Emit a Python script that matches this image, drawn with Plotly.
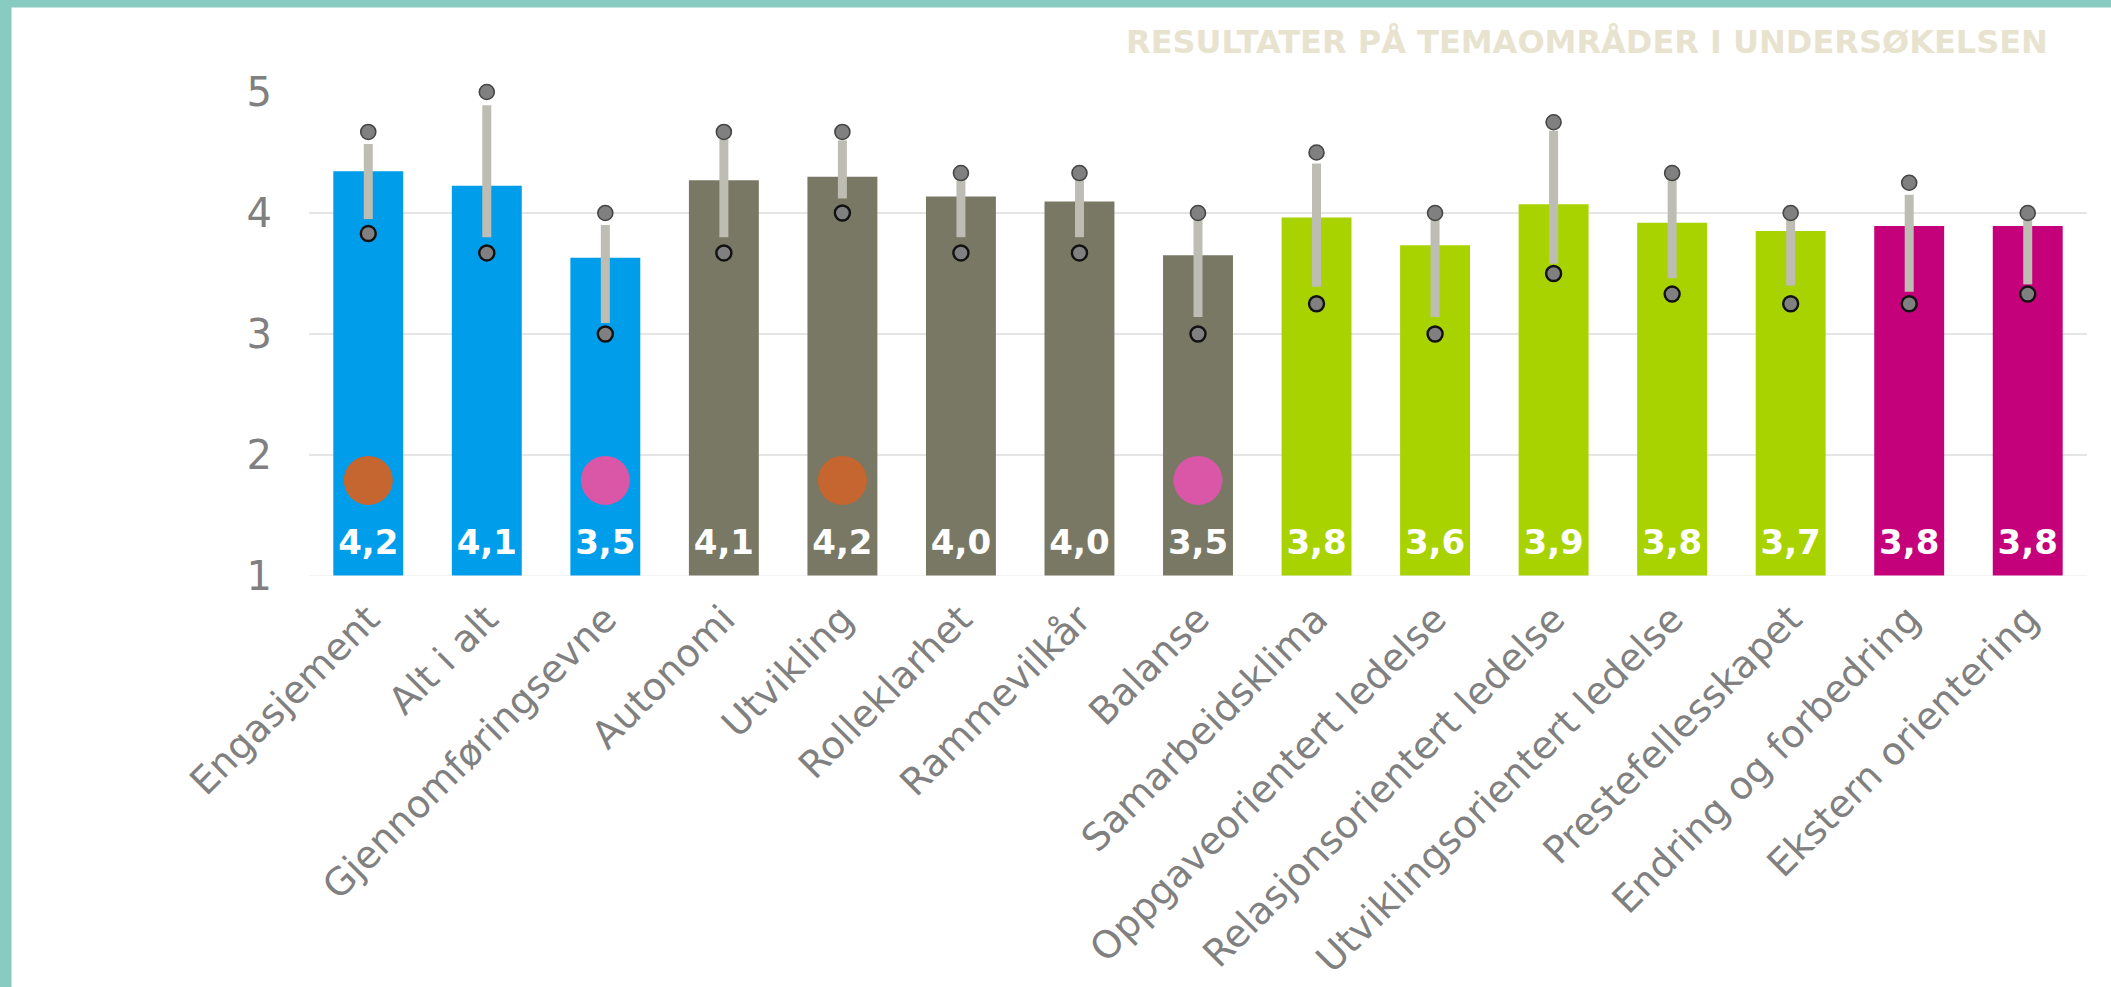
import plotly.graph_objects as go

categories = ["Engasjement", "Alt i alt", "Gjennomføringsevne", "Autonomi", "Utvikling",
              "Rolleklarhet", "Rammevilkår", "Balanse", "Samarbeidsklima",
              "Oppgaveorientert ledelse", "Relasjonsorientert ledelse",
              "Utviklingsorientert ledelse", "Prestefellesskapet",
              "Endring og forbedring", "Ekstern orientering"]
bar_values = [4.345, 4.226, 3.63, 4.27, 4.30, 4.137, 4.096, 3.651, 3.962, 3.733,
              4.073, 3.919, 3.852, 3.893, 3.893]
value_labels = ["4,2", "4,1", "3,5", "4,1", "4,2", "4,0", "4,0", "3,5", "3,8", "3,6",
                "3,9", "3,8", "3,7", "3,8", "3,8"]
max_values = [4.67, 5.0, 4.0, 4.67, 4.67, 4.33, 4.33, 4.0, 4.5, 4.0, 4.75, 4.33, 4.0, 4.25, 4.0]
min_values = [3.83, 3.67, 3.0, 3.67, 4.0, 3.67, 3.67, 3.0, 3.25, 3.0, 3.5, 3.33, 3.25, 3.25, 3.33]
range_top = [4.57, 4.89, 3.90, 4.61, 4.60, 4.27, 4.27, 3.95, 4.41, 3.95, 4.68, 4.27, 3.95, 4.15, 3.95]
range_bottom = [3.95, 3.80, 3.09, 3.80, 4.12, 3.80, 3.80, 3.14, 3.39, 3.14, 3.58, 3.46, 3.40, 3.35, 3.41]
groups = ["A", "A", "A", "B", "B", "B", "B", "B", "C", "C", "C", "C", "C", "D", "D"]
flags = ["hi", None, "lo", None, "hi", None, None, "lo", None, None, None, None, None, None, None]
y_ticks = [1, 2, 3, 4, 5]
title_text = "RESULTATER PÅ TEMAOMRÅDER I UNDERSØKELSEN"

GROUP_COLORS = {"A": "#009EEA", "B": "#787864", "C": "#A8D300", "D": "#C4007A"}
FLAG_COLORS = {"hi": "#C5652F", "lo": "#D957A6"}
LABEL_Y = 1.255
FLAG_Y = 1.79
FONT = "DejaVu Sans"
TICK_COLOR = "#808080"
TEAL = "#88CBC0"

W, H = 2111, 987
ML, MR, MT, MB = 309, 24, 92, 411

fig = go.Figure()
fig.add_trace(go.Bar(x=categories, y=bar_values,
                     marker=dict(color=[GROUP_COLORS[g] for g in groups], line=dict(width=0)),
                     hoverinfo="skip"))

for c, t, b in zip(categories, range_top, range_bottom):
    fig.add_trace(go.Scatter(x=[c, c], y=[b, t], mode="lines",
                             line=dict(color="#BDBDB3", width=9),
                             hoverinfo="skip", cliponaxis=False))

fig.add_trace(go.Scatter(x=categories, y=max_values, mode="markers", cliponaxis=False,
                         marker=dict(size=15, color="#808080", line=dict(color="#454545", width=1.6))))
fig.add_trace(go.Scatter(x=categories, y=min_values, mode="markers", cliponaxis=False,
                         marker=dict(size=15, color="#808080", line=dict(color="#111111", width=2.4))))

fx = [c for c, f in zip(categories, flags) if f]
fc = [FLAG_COLORS[f] for f in flags if f]
fig.add_trace(go.Scatter(x=fx, y=[FLAG_Y] * len(fx), mode="markers",
                         marker=dict(size=49, color=fc, line=dict(width=0))))

fig.add_trace(go.Scatter(x=categories, y=[LABEL_Y] * len(categories), mode="text",
                         text=value_labels, textposition="middle center",
                         textfont=dict(family=FONT, size=34, color="white", weight="bold")))

pw = W - ML - MR
ph = H - MT - MB


def px_x(p):
    return (p - ML) / pw


def px_y(p):
    return (H - MB - p) / ph


fig.add_shape(type="rect", xref="paper", yref="paper", x0=px_x(0), x1=px_x(11.5),
              y0=px_y(H), y1=px_y(0), fillcolor=TEAL, line=dict(width=0), layer="above")
fig.add_shape(type="rect", xref="paper", yref="paper", x0=px_x(0), x1=px_x(W),
              y0=px_y(7.5), y1=px_y(0), fillcolor=TEAL, line=dict(width=0), layer="above")
fig.add_shape(type="line", xref="paper", yref="y", x0=0, x1=1, y0=1, y1=1,
              line=dict(color="rgba(235,235,235,0.55)", width=2), layer="above")

fig.add_annotation(text=title_text, xref="paper", yref="paper", x=px_x(2050), y=px_y(42),
                   xanchor="right", yanchor="middle", showarrow=False,
                   font=dict(family=FONT, size=32, color="#E8E3CF", weight="bold"))

fig.update_layout(
    width=W, height=H, margin=dict(l=ML, r=MR, t=MT, b=MB, pad=0, autoexpand=False),
    paper_bgcolor="white", plot_bgcolor="white", showlegend=False, bargap=0.41,
    font=dict(family=FONT, color=TICK_COLOR),
)
fig.update_xaxes(type="category", categoryorder="array", categoryarray=categories,
                 range=[-0.5, len(categories) - 0.5],
                 tickangle=-45, tickfont=dict(family=FONT, size=38, color=TICK_COLOR),
                 showgrid=False, showline=False, ticks="", ticklabelstandoff=12, automargin=False)
fig.update_yaxes(range=[1, 5], tickvals=y_ticks, ticktext=[str(v) for v in y_ticks],
                 tickfont=dict(family=FONT, size=40, color=TICK_COLOR),
                 showgrid=True, gridcolor="#E5E5E5", gridwidth=2, zeroline=False,
                 showline=False, ticks="", ticklabelstandoff=36, automargin=False)

fig.write_html("out.html", config={"displayModeBar": False},
               post_script="document.body.style.margin='0';")
